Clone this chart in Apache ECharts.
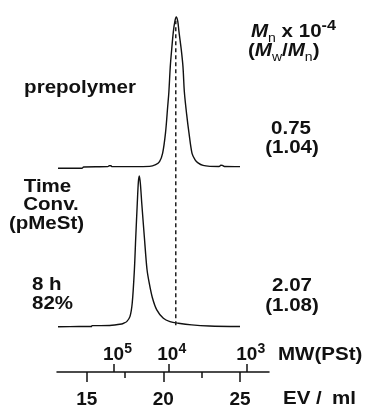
<!DOCTYPE html>
<html>
<head>
<meta charset="utf-8">
<script src="https://cdn.jsdelivr.net/npm/echarts@6/dist/echarts.min.js"></script>
<style>
  html, body { margin: 0; padding: 0; background: #fff; }
  #chart { width: 366px; height: 405px; }
</style>
</head>
<body>
<div id="chart"></div>
<script>
// GPC traces: elution volume (ml) and normalised RI response
const prepolymerEV = [13.13, 14.69, 14.80, 16.38, 16.47, 16.58, 16.66, 19.10, 19.50, 19.75, 19.95, 20.14, 20.28, 20.36, 20.45, 20.54, 20.65, 20.75, 20.84, 20.94, 21.02, 21.17, 21.28, 21.37, 21.52, 21.67, 21.87, 22.07, 22.26, 22.59, 23.04, 23.63, 23.75, 23.85, 23.98, 25.00];
const prepolymerRI = [-0.009, -0.009, 0.000, 0.002, 0.009, 0.008, 0.002, 0.004, 0.015, 0.035, 0.090, 0.227, 0.400, 0.500, 0.667, 0.780, 0.900, 0.970, 1.000, 0.970, 0.900, 0.780, 0.667, 0.500, 0.350, 0.227, 0.090, 0.047, 0.027, 0.010, 0.004, 0.003, 0.011, 0.010, 0.003, 0.002];

const product8hEV = [13.13, 14.50, 15.30, 15.35, 16.50, 17.28, 17.45, 17.61, 17.82, 17.97, 18.11, 18.20, 18.30, 18.37, 18.43, 18.50, 18.59, 18.76, 18.93, 19.08, 19.28, 19.57, 20.00, 20.43, 20.98, 21.85, 23.00, 25.00];
const product8hRI = [-0.005, -0.004, -0.004, 0.002, 0.003, 0.013, 0.020, 0.029, 0.062, 0.153, 0.373, 0.593, 0.820, 0.960, 1.000, 0.950, 0.820, 0.593, 0.380, 0.285, 0.190, 0.107, 0.051, 0.029, 0.018, 0.007, 0.000, -0.004];

// elution volume of the prepolymer peak (reference line)
const prepolymerPeakEV = 20.81;

// axis ticks
const evTicks = [15, 20, 25];
const evMinorTicks = [17.5, 22.5];
const mwTickEV = [16.78, 20.32, 25.47];
const mwTickExp = ['5', '4', '3'];

// sample annotations
const prepolymerLabel = 'prepolymer';
const seriesHeader = ['Time', 'Conv.', '(pMeSt)'];
const productTime = '8 h';
const productConv = '82%';
const prepolymerMn = '0.75';
const prepolymerPDI = '(1.04)';
const productMn = '2.07';
const productPDI = '(1.08)';

// layout constants
const X_MIN = 13.063, X_MAX = 26.89;
const Y_MIN = -0.307, Y_MAX = 2.173;
const TRACE_GAP = 1.06;          // vertical offset of the upper trace
const FONT = '"Liberation Sans", Arial, Helvetica, sans-serif';
const INK = '#111';
const SX = 1.08;

const chart = echarts.init(document.getElementById('chart'), null, { renderer: 'canvas' });

function pairs(xs, ys, off) {
  return xs.map((x, i) => [x, ys[i] + off]);
}

function label(text, x, y, align) {
  return {
    type: 'text', x: x, y: y, scaleX: SX, silent: true,
    style: {
      text: text, fill: INK, fontFamily: FONT, fontWeight: 'bold', fontSize: 19,
      align: align, verticalAlign: 'middle'
    }
  };
}

const headerRich = {
  mi: { fontFamily: FONT, fontWeight: 'bold', fontStyle: 'italic', fontSize: 19, lineHeight: 26, fill: INK },
  b: { fontFamily: FONT, fontWeight: 'bold', fontSize: 19, lineHeight: 26, fill: INK },
  sub: { fontFamily: FONT, fontWeight: 'normal', fontSize: 13, lineHeight: 17, verticalAlign: 'bottom', fill: INK },
  sup: { fontFamily: FONT, fontWeight: 'bold', fontSize: 15, lineHeight: 15, verticalAlign: 'top', fill: INK }
};

const option = {
  animation: false,
  backgroundColor: '#fff',
  grid: { left: 57, right: 97, top: 0, bottom: 33, containLabel: false, outerBoundsMode: 'none' },
  xAxis: [
    {
      type: 'value', min: X_MIN, max: X_MAX, position: 'bottom', offset: 0,
      axisLine: { show: true, onZero: false, lineStyle: { color: INK, width: 1.5 } },
      axisTick: { show: true, length: 10, customValues: evTicks, lineStyle: { color: INK, width: 1.5 } },
      axisLabel: {
        show: true, customValues: evTicks, margin: 18, color: INK,
        fontFamily: FONT, fontWeight: 'bold', fontSize: 19
      },
      splitLine: { show: false }
    },
    {
      type: 'value', min: X_MIN, max: X_MAX, position: 'bottom', offset: 0,
      axisLine: { show: false, onZero: false },
      axisTick: { show: true, length: 6, customValues: evMinorTicks, lineStyle: { color: INK, width: 1.5 } },
      axisLabel: { show: false },
      splitLine: { show: false }
    },
    {
      type: 'value', min: X_MIN, max: X_MAX, position: 'bottom', offset: 0,
      axisLine: { show: false, onZero: false },
      axisTick: { show: true, inside: true, length: 8, customValues: mwTickEV, lineStyle: { color: INK, width: 1.5 } },
      axisLabel: {
        show: true, inside: true, customValues: mwTickEV, margin: 4,
        formatter: function (v) {
          let k = 0, best = Infinity;
          mwTickEV.forEach((t, i) => { const d = Math.abs(t - v); if (d < best) { best = d; k = i; } });
          return '{g|}{b|10}{s|' + mwTickExp[k] + '}';
        },
        rich: {
          g: { width: 7 },
          b: { fontFamily: FONT, fontWeight: 'bold', fontSize: 19, lineHeight: 26, color: INK },
          s: { fontFamily: FONT, fontWeight: 'bold', fontSize: 14, lineHeight: 12, verticalAlign: 'top', color: INK }
        }
      },
      splitLine: { show: false }
    }
  ],
  yAxis: { type: 'value', min: Y_MIN, max: Y_MAX, show: false, splitLine: { show: false } },
  series: [
    {
      name: 'prepolymer', type: 'line', xAxisIndex: 0,
      data: pairs(prepolymerEV, prepolymerRI, TRACE_GAP),
      showSymbol: false, smooth: 0.3, silent: true,
      lineStyle: { color: INK, width: 1.4 }
    },
    {
      name: '8 h', type: 'line', xAxisIndex: 0,
      data: pairs(product8hEV, product8hRI, 0),
      showSymbol: false, smooth: 0.3, silent: true,
      lineStyle: { color: INK, width: 1.4 }
    },
    {
      name: 'peak', type: 'line', xAxisIndex: 0,
      data: [[prepolymerPeakEV, 0.005], [prepolymerPeakEV, TRACE_GAP + 0.975]],
      showSymbol: false, silent: true,
      lineStyle: { color: '#222', width: 1.5, type: [4, 3] }
    }
  ],
  graphic: [
    label(prepolymerLabel, 80, 88, 'center'),
    label(seriesHeader[0], 47.5, 186.5, 'center'),
    label(seriesHeader[1], 51, 205, 'center'),
    label(seriesHeader[2], 46.5, 223.5, 'center'),
    label(productTime, 32, 285, 'left'),
    label(productConv, 32, 304, 'left'),
    label(prepolymerMn, 291, 128.5, 'center'),
    label(prepolymerPDI, 292, 147.5, 'center'),
    label(productMn, 292, 286, 'center'),
    label(productPDI, 292, 305.5, 'center'),
    label('MW(PSt)', 278, 354.5, 'left'),
    label('EV /\u2002ml', 283, 398.5, 'left'),
    {
      type: 'text', x: 251, y: 31.5, scaleX: SX, silent: true,
      style: { text: '{mi|M}{sub|n}{b| x 10}{sup|-4}', rich: headerRich, align: 'left', verticalAlign: 'middle' }
    },
    {
      type: 'text', x: 248, y: 50.5, scaleX: SX, silent: true,
      style: { text: '{b|(}{mi|M}{sub|w}{b|/}{mi|M}{sub|n}{b|)}', rich: headerRich, align: 'left', verticalAlign: 'middle' }
    }
  ]
};

chart.setOption(option);
</script>
</body>
</html>
